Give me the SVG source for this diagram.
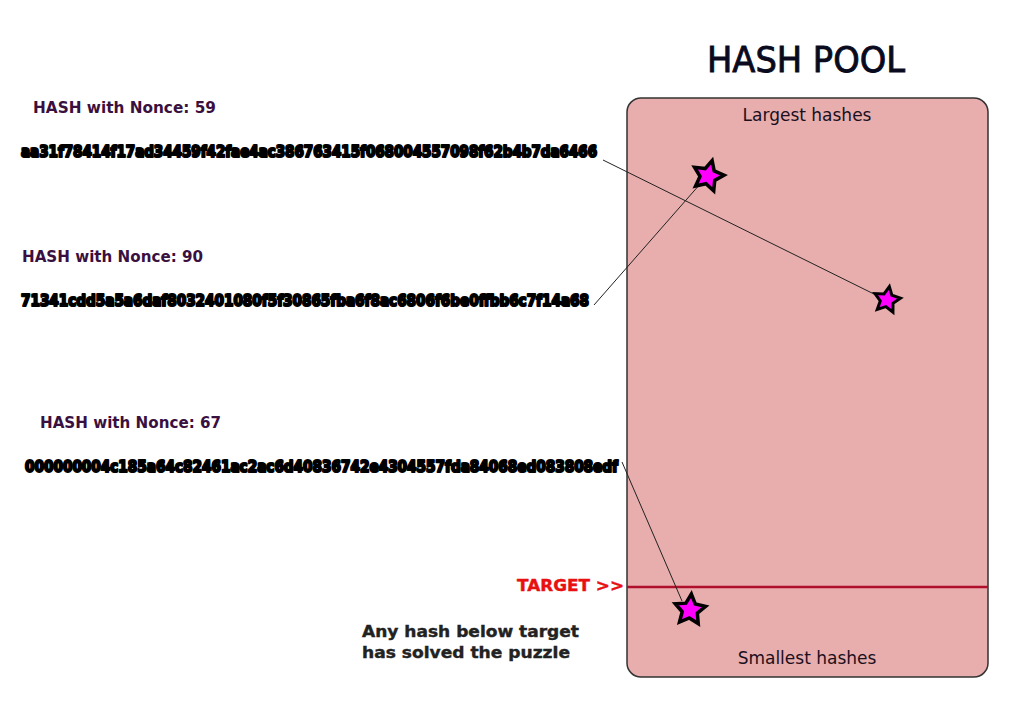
<svg xmlns="http://www.w3.org/2000/svg" width="1024" height="724" viewBox="0 0 1024 724">
<style>
.lbl{font-family:"DejaVu Sans",Verdana,sans-serif;font-weight:bold;font-size:15.5px;fill:#3a1040;}
.hash{font-family:"DejaVu Sans",Verdana,sans-serif;font-weight:bold;font-size:16px;fill:#000;stroke:#000;stroke-width:2.2;stroke-linejoin:round;}
.pool{font-family:"DejaVu Sans",Verdana,sans-serif;font-size:17px;fill:#1a1020;}
.note{font-family:"DejaVu Sans",Verdana,sans-serif;font-weight:bold;font-size:15.5px;fill:#222;stroke:#222;stroke-width:0.4;}
.conn{stroke:#222;stroke-width:1;fill:none;}
.star{fill:#ff00ff;stroke:#000;stroke-width:3.5;stroke-linejoin:miter;}
</style>
<defs>
<polygon id="star" points="0,-16 4.70,-6.47 15.22,-4.94 7.61,2.47 9.40,12.94 0,8 -9.40,12.94 -7.61,2.47 -15.22,-4.94 -4.70,-6.47"/>
</defs>
<rect width="1024" height="724" fill="#fff"/>
<g id="title">
<text x="806" y="72" text-anchor="middle" font-family="DejaVu Sans,Verdana,sans-serif" font-size="35" fill="#0a0a1e" stroke="#0a0a1e" stroke-width="0.9" textLength="198" lengthAdjust="spacingAndGlyphs">HASH POOL</text>
</g>
<g id="pool">
<rect x="627" y="98" width="361" height="579" rx="14" fill="#e8adad" stroke="#333" stroke-width="1.5"/>
<text class="pool" x="807" y="121" text-anchor="middle">Largest hashes</text>
<text class="pool" x="807" y="664" text-anchor="middle">Smallest hashes</text>
</g>
<g id="target">
<line x1="627" y1="587" x2="988" y2="587" stroke="#b0102c" stroke-width="2.5"/>
<text x="517" y="591" font-family="DejaVu Sans,Verdana,sans-serif" font-weight="bold" font-size="16" fill="#e81010" stroke="#e81010" stroke-width="0.4" textLength="107" lengthAdjust="spacingAndGlyphs">TARGET &gt;&gt;</text>
</g>
<g id="note">
<text class="note" x="362" y="637" textLength="217" lengthAdjust="spacingAndGlyphs">Any hash below target</text>
<text class="note" x="362" y="658" textLength="208" lengthAdjust="spacingAndGlyphs">has solved the puzzle</text>
</g>
<g id="connectors">
<line class="conn" x1="603" y1="160" x2="880" y2="297"/>
<line class="conn" x1="594" y1="305" x2="701" y2="183"/>
<line class="conn" x1="622" y1="462" x2="682" y2="601"/>
</g>
<g id="hash59">
<text class="lbl" x="33" y="113" textLength="183" lengthAdjust="spacingAndGlyphs">HASH with Nonce: 59</text>
<text class="hash" x="21" y="157" textLength="576" lengthAdjust="spacingAndGlyphs">aa31f78414f17ad34459f42fae4ac386763415f068004557098f62b4b7da6466</text>
</g>
<g id="hash90">
<text class="lbl" x="22" y="262" textLength="181" lengthAdjust="spacingAndGlyphs">HASH with Nonce: 90</text>
<text class="hash" x="21" y="306" textLength="568" lengthAdjust="spacingAndGlyphs">71341cdd5a5a6daf8032401080f5f30865fba6f8ac6806f6be0ffbb6c7f14a68</text>
</g>
<g id="hash67">
<text class="lbl" x="40" y="428" textLength="181" lengthAdjust="spacingAndGlyphs">HASH with Nonce: 67</text>
<text class="hash" x="25" y="472" textLength="593" lengthAdjust="spacingAndGlyphs">000000004c185a64c82461ac2ac6d40836742e4304557fda84068ed083808edf</text>
</g>
<g id="star1"><use href="#star" class="star" transform="translate(708,176) rotate(15)"/></g>
<g id="star2"><use href="#star" class="star" transform="translate(887,300) rotate(10) scale(0.85)"/></g>
<g id="star3"><use href="#star" class="star" transform="translate(690,610) rotate(5)"/></g>
</svg>
